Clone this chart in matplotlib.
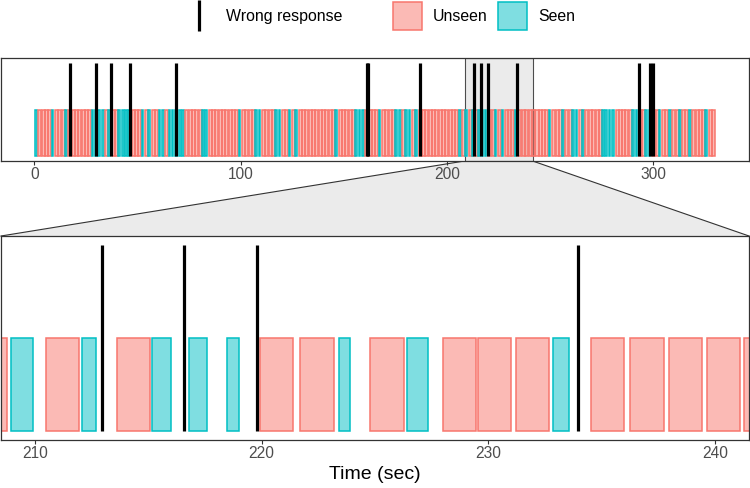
import matplotlib
matplotlib.use("Agg")
import matplotlib.pyplot as plt
from matplotlib.patches import Rectangle, Polygon

plt.rcParams['font.family'] = ['Liberation Sans', 'DejaVu Sans']

# ---------------- data ----------------
# trial state: S = seen, U = unseen (one character per trial)
states = ("SUUUUSUUUS" "UUUUUUUSSS" "SUSUUSSSSU" "UUSUSUUSSU" "SSSSSUUUUU"
          "SSUUUUUUUU" "USUUUUSSUU" "UUSSUUSUSU" "UUUUUUUUUU" "SUUUUUSSSU"
          "UUUSUUUUSS" "USSUSUUUUU" "UUUUUUUSUS" "USUSSSUUSU" "SUUUSUUUUU"
          "UUUUSUUUSU" "USSUSUUUUU" "SSSSUUUUUS" "SUUSSUUSUU" "SUUSUUSUUU"
          "USUU")

# trial onsets (sec)
onsets = [
    0.3, 1.9, 3.6, 5.2, 6.8, 8.4, 10.0, 11.6, 13.3, 14.9,
    16.5, 18.1, 19.7, 21.3, 23.0, 24.6, 26.2, 27.8, 29.4, 31.0,
    32.7, 34.3, 35.9, 37.5, 39.1, 40.7, 42.4, 44.0, 45.6, 47.2,
    48.8, 50.4, 52.1, 53.7, 55.3, 56.9, 58.5, 60.2, 61.8, 63.4,
    65.0, 66.6, 68.2, 69.9, 71.5, 73.1, 74.7, 76.3, 77.9, 79.6,
    81.2, 82.8, 84.4, 86.0, 87.6, 89.3, 90.9, 92.5, 94.1, 95.7,
    97.3, 99.0, 100.6, 102.2, 103.8, 105.4, 107.0, 108.7, 110.3, 111.9,
    113.5, 115.1, 116.7, 118.4, 120.0, 121.6, 123.2, 124.8, 126.4, 128.1,
    129.7, 131.3, 132.9, 134.5, 136.1, 137.8, 139.4, 141.0, 142.6, 144.2,
    145.9, 147.5, 149.1, 150.7, 152.3, 153.9, 155.6, 157.2, 158.8, 160.4,
    162.0, 163.6, 165.3, 166.9, 168.5, 170.1, 171.7, 173.3, 175.0, 176.6,
    178.2, 179.8, 181.4, 183.0, 184.7, 186.3, 187.9, 189.5, 191.1, 192.7,
    194.4, 196.0, 197.6, 199.2, 200.8, 202.4, 204.1, 205.7, 207.3, 208.94,
    210.48, 212.08, 213.62, 215.14, 216.80, 218.45, 219.94, 221.71, 223.41, 224.80,
    226.43, 227.99, 229.56, 231.23, 232.85, 234.54, 236.27, 237.96, 239.63, 241.28,
    242.9, 244.5, 246.1, 247.7, 249.3, 251.0, 252.6, 254.2, 255.8, 257.4,
    259.0, 260.7, 262.3, 263.9, 265.5, 267.1, 268.7, 270.4, 272.0, 273.6,
    275.2, 276.8, 278.4, 280.1, 281.7, 283.3, 284.9, 286.5, 288.1, 289.8,
    291.4, 293.0, 294.6, 296.2, 297.8, 299.5, 301.1, 302.7, 304.3, 305.9,
    307.6, 309.2, 310.8, 312.4, 314.0, 315.6, 317.3, 318.9, 320.5, 322.1,
    323.7, 325.3, 327.0, 328.6,
]

# tile durations (sec)
durations = [
    0.85, 1.46, 1.46, 1.46, 1.46, 0.70, 1.46, 1.46, 1.46, 0.80,
    1.46, 1.46, 1.46, 1.46, 1.46, 1.46, 1.46, 0.75, 0.90, 0.65,
    0.80, 1.46, 0.70, 1.46, 1.46, 0.95, 0.85, 0.75, 0.90, 1.46,
    1.46, 1.46, 0.60, 1.46, 0.85, 1.46, 1.46, 0.80, 0.95, 1.46,
    0.90, 0.75, 0.85, 0.95, 0.80, 1.46, 1.46, 1.46, 1.46, 1.46,
    0.85, 0.90, 1.46, 1.46, 1.46, 1.46, 1.46, 1.46, 1.46, 1.46,
    1.46, 0.70, 1.46, 1.46, 1.46, 1.46, 0.80, 0.85, 1.46, 1.46,
    1.46, 1.46, 0.90, 0.80, 1.46, 1.46, 0.75, 1.46, 0.65, 1.46,
    1.46, 1.46, 1.46, 1.46, 1.46, 1.46, 1.46, 1.46, 1.46, 1.46,
    0.70, 1.46, 1.46, 1.46, 1.46, 1.46, 0.85, 0.80, 0.75, 1.46,
    1.46, 1.46, 1.46, 0.70, 1.46, 1.46, 1.46, 1.46, 0.85, 0.90,
    1.46, 0.80, 0.75, 1.46, 0.85, 1.46, 1.46, 1.46, 1.46, 1.46,
    1.46, 1.46, 1.46, 1.46, 1.46, 1.46, 1.46, 0.85, 1.46, 0.99,
    1.46, 0.61, 1.46, 0.87, 0.77, 0.53, 1.46, 1.46, 0.47, 1.46,
    0.90, 1.46, 1.46, 1.46, 0.72, 1.46, 1.46, 1.46, 1.46, 1.46,
    1.46, 1.46, 1.46, 1.46, 0.75, 1.46, 1.46, 1.46, 0.70, 1.46,
    1.46, 0.85, 0.80, 1.46, 0.90, 1.46, 1.46, 1.46, 1.46, 1.46,
    0.85, 0.95, 0.80, 0.90, 1.46, 1.46, 1.46, 1.46, 1.46, 0.85,
    0.75, 1.46, 1.46, 0.80, 0.85, 1.46, 1.46, 0.70, 1.46, 1.46,
    0.75, 1.46, 1.46, 0.80, 1.46, 1.46, 0.85, 1.46, 1.46, 1.46,
    1.46, 0.75, 1.46, 1.46,
]

# wrong responses (sec)
wrong_times = [17.05, 30.05, 37.35, 46.35, 68.45, 161.0, 161.8, 187.15,
               212.96, 216.56, 219.79, 233.94, 292.95, 298.3, 299.7]

zoom_window = [208.5, 241.5]
top_ticks = [0, 100, 200, 300]
bottom_ticks = [210, 220, 230, 240]
legend_labels = ["Wrong response", "Unseen", "Seen"]

# ---------------- style ----------------
edge_col = {"U": "#F8766D", "S": "#00BFC4"}
fill_col = {"U": (248/255, 118/255, 109/255, 0.5), "S": (0, 191/255, 196/255, 0.5)}
dark = "#333333"
ticklab = "#4D4D4D"

W, H = 750, 488
fig = plt.figure(figsize=(7.5, 4.88), dpi=100)


def frac(x0, y0, x1, y1):
    return [x0 / W, 1 - y1 / H, (x1 - x0) / W, (y1 - y0) / H]


ax1 = fig.add_axes(frac(1, 58, 749, 161), zorder=2)
ax2 = fig.add_axes(frac(1, 236, 749, 440), zorder=2)

faces = [fill_col[s] for s in states]
edges = [edge_col[s] for s in states]

for ax in (ax1, ax2):
    ax.bar(onsets, 1, width=durations, bottom=0, align="edge",
           color=faces, edgecolor=edges, linewidth=1.1, zorder=2)
    ax.vlines(wrong_times, 0, 2, colors="black", linewidth=2.3,
              zorder=3, capstyle="butt")
    ax.set_ylim(-0.1, 2.1)
    ax.set_yticks([])
    for sp in ax.spines.values():
        sp.set_color(dark)
        sp.set_linewidth(0.9)
    ax.tick_params(axis="x", direction="out", length=2.6, width=0.8,
                   color=dark, labelcolor=ticklab, labelsize=11.2, pad=2)

ax1.set_xlim(-16.2, 346.4)
ax1.set_xticks(top_ticks)
ax1.axvspan(zoom_window[0], zoom_window[1], facecolor="#EBEBEB",
            edgecolor="#4D4D4D", linewidth=0.8, zorder=1)

ax2.set_xlim(zoom_window[0], zoom_window[1])
ax2.set_xticks(bottom_ticks)
ax2.set_xlabel("Time (sec)", fontsize=14, color="black", labelpad=3)

# ---------------- overlay: connector + legend ----------------
ov = fig.add_axes([0, 0, 1, 1], zorder=0)
ov.set_xlim(0, W)
ov.set_ylim(H, 0)
ov.axis("off")
ov.patch.set_alpha(0)

x_left = ax1.transData.transform((zoom_window[0], 0))[0] * W / fig.bbox.width
x_right = ax1.transData.transform((zoom_window[1], 0))[0] * W / fig.bbox.width
poly = Polygon([(x_left, 161), (x_right, 161), (749, 236), (1, 236)],
               closed=True, facecolor="#EBEBEB", edgecolor="none")
ov.add_patch(poly)
ov.plot([x_left, 1], [161, 236], color=dark, lw=0.8)
ov.plot([x_right, 749], [161, 236], color=dark, lw=0.8)

# legend
ov.plot([199, 199], [0, 31], color="black", lw=2.3, solid_capstyle="butt")
ov.text(225.5, 16.5, legend_labels[0], fontsize=11.4, va="center", ha="left")
ov.add_patch(Rectangle((392.5, 1.5), 29, 28.5, facecolor=fill_col["U"],
                       edgecolor=edge_col["U"], lw=1.1))
ov.text(432.5, 16.5, legend_labels[1], fontsize=11.4, va="center", ha="left")
ov.add_patch(Rectangle((497.5, 1.5), 29, 28.5, facecolor=fill_col["S"],
                       edgecolor=edge_col["S"], lw=1.1))
ov.text(538, 16.5, legend_labels[2], fontsize=11.4, va="center", ha="left")

fig.savefig("out.png", dpi=100)
